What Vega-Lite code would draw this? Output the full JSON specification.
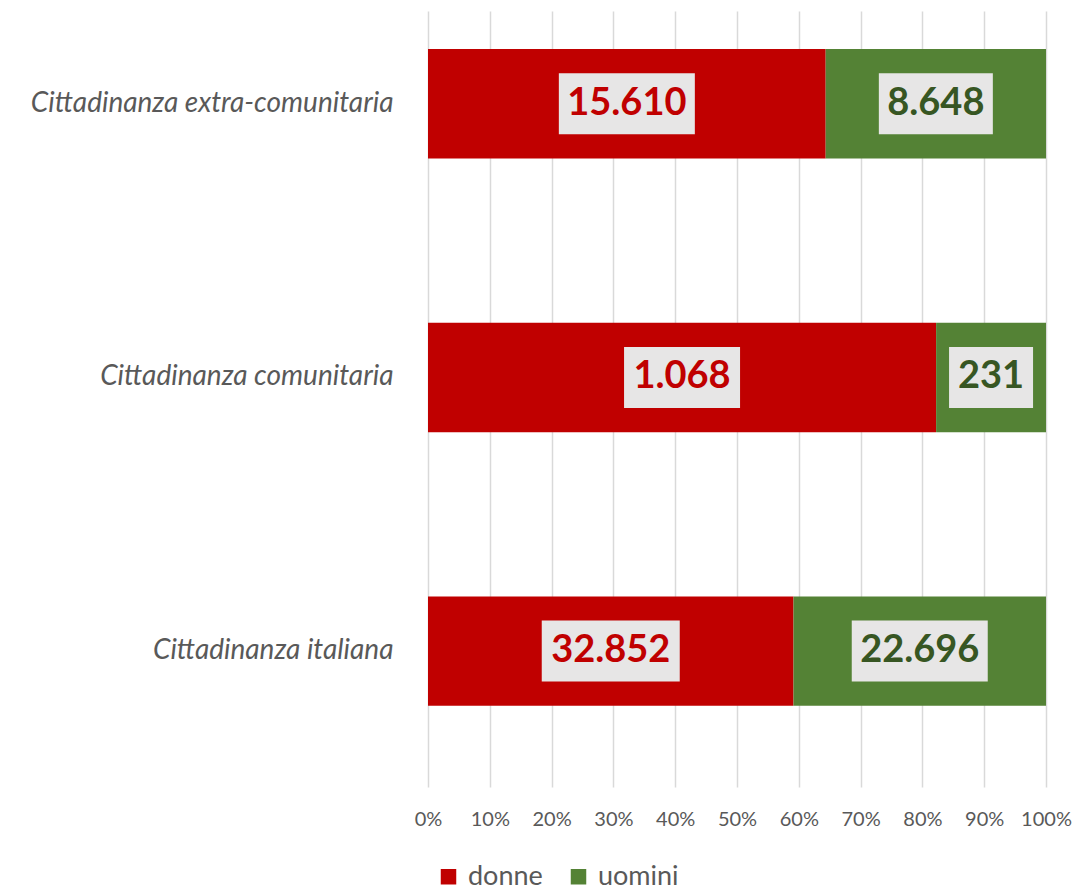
{
  "$schema": "https://vega.github.io/schema/vega-lite/v6.json",
  "autosize": "none",
  "width": 618,
  "height": 776,
  "padding": {"left": 428, "top": 11, "right": 31, "bottom": 103},
  "background": "white",
  "config": {
    "locale": {"number": {"decimal": ",", "thousands": ".", "grouping": [3], "currency": ["", " €"]}},
    "view": {"stroke": null},
    "font": "Lato"
  },
  "data": {
    "values": [
      {"cat": "Cittadinanza extra-comunitaria", "sex": "donne", "n": 15610},
      {"cat": "Cittadinanza extra-comunitaria", "sex": "uomini", "n": 8648},
      {"cat": "Cittadinanza comunitaria", "sex": "donne", "n": 1068},
      {"cat": "Cittadinanza comunitaria", "sex": "uomini", "n": 231},
      {"cat": "Cittadinanza italiana", "sex": "donne", "n": 32852},
      {"cat": "Cittadinanza italiana", "sex": "uomini", "n": 22696}
    ]
  },
  "transform": [
    {"stack": "n", "groupby": ["cat"], "sort": [{"field": "sex", "order": "ascending"}], "offset": "normalize", "as": ["s0", "s1"]}
  ],
  "encoding": {
    "y": {
      "field": "cat",
      "type": "nominal",
      "title": null,
      "scale": {
        "domain": ["Cittadinanza extra-comunitaria", "Cittadinanza comunitaria", "Cittadinanza italiana"],
        "paddingInner": 0.6,
        "paddingOuter": 0.2177,
        "align": 0.319,
        "round": false
      },
      "axis": {
        "domain": false,
        "ticks": false,
        "labelFont": "Lato",
        "labelFontStyle": "italic",
        "labelFontSize": 28,
        "labelColor": "#595959",
        "labelPadding": 35,
        "labelLimit": 500
      }
    }
  },
  "layer": [
    {
      "mark": {"type": "bar", "stroke": "white", "strokeWidth": 0},
      "encoding": {
        "x": {
          "field": "s0",
          "type": "quantitative",
          "title": null,
          "scale": {"domain": [0, 1], "nice": false},
          "axis": {
            "values": [0, 0.1, 0.2, 0.3, 0.4, 0.5, 0.6, 0.7, 0.8, 0.9, 1],
            "format": ".0%",
            "domain": false,
            "ticks": false,
            "grid": true,
            "gridColor": "#D9D9D9",
            "gridWidth": 1.5,
            "labelFont": "Lato",
            "labelFontSize": 20,
            "labelColor": "#595959",
            "labelPadding": 22,
            "labelFlush": false
          }
        },
        "x2": {"field": "s1"},
        "color": {
          "field": "sex",
          "type": "nominal",
          "scale": {"domain": ["donne", "uomini"], "range": ["#C00000", "#548235"]},
          "legend": {
            "title": null,
            "orient": "none",
            "direction": "horizontal",
            "legendX": 7,
            "legendY": 852,
            "symbolType": "square",
            "symbolSize": 240,
            "symbolStrokeWidth": 0,
            "labelFont": "Lato",
            "labelFontSize": 27,
            "labelColor": "#595959",
            "labelOffset": 6,
            "columnPadding": 22
          }
        }
      }
    },
    {
      "transform": [
        {"fold": ["s0", "s1"], "as": ["k", "pos"]},
        {"aggregate": [{"op": "mean", "field": "pos", "as": "mid"}], "groupby": ["cat", "sex", "n"]}
      ],
      "layer": [
        {
          "mark": {"type": "point", "filled": true, "opacity": 1, "color": "#E7E6E6", "strokeWidth": 0, "size": 4},
          "encoding": {
            "x": {"field": "mid", "type": "quantitative"},
            "shape": {
              "field": "n",
              "type": "nominal",
              "legend": null,
              "scale": {
                "domain": [15610, 8648, 1068, 231, 32852, 22696],
                "range": [
                  "M-68,-30.5H68V30.5H-68Z",
                  "M-57,-30.5H57V30.5H-57Z",
                  "M-58,-30.5H58V30.5H-58Z",
                  "M-42,-30.5H42V30.5H-42Z",
                  "M-69,-30.5H69V30.5H-69Z",
                  "M-68,-30.5H68V30.5H-68Z"
                ]
              }
            }
          }
        },
        {
          "mark": {"type": "text", "font": "Lato", "fontWeight": "bold", "fontSize": 38, "baseline": "middle", "align": "center"},
          "encoding": {
            "x": {"field": "mid", "type": "quantitative"},
            "text": {"field": "n", "type": "quantitative", "format": ",d"},
            "color": {
              "condition": {"test": "datum.sex === 'donne'", "value": "#C00000"},
              "value": "#375623"
            }
          }
        }
      ]
    }
  ]
}
